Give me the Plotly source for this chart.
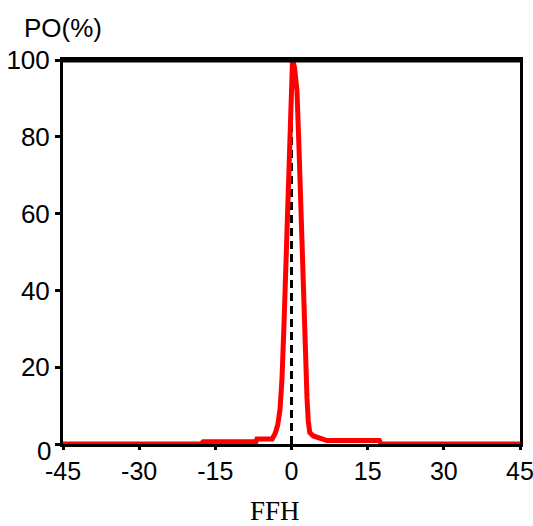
import plotly.graph_objects as go

# Curve data (FFH vs PO%)
ffh = [-45, -17.8, -17.4, -7.0, -6.8, -3.8, -3.2, -2.7, -2.26, -1.87, -1.48, -1.08,
       -0.6, -0.2, 0.2, 0.6, 1.08, 1.48, 1.87, 2.26, 2.66, 3.05, 3.3, 3.6, 4.3,
       5.7, 7.0, 17.3, 17.6, 45]
po = [0, 0, 0.6, 0.6, 1.3, 1.3, 2.8, 5, 9, 17, 31, 48,
      67, 88, 100, 98, 92, 77, 59, 42, 25.5, 12, 6, 3, 2.1,
      1.4, 0.9, 0.9, 0, 0]

# Reference (zero) line
ref_x = [0, 0]
ref_y = [0, 100]

x_ticks = [-45, -30, -15, 0, 15, 30, 45]
x_ticktext = ["-45", "-30", "-15", "0", "15", "30", "45"]
y_ticks = [0, 20, 40, 60, 80, 100]
y_ticktext = ["", "20", "40", "60", "80", "100"]

fig = go.Figure()
fig.add_trace(go.Scatter(x=ref_x, y=ref_y, mode="lines",
                         line=dict(color="black", width=3, dash="8px,5px"),
                         showlegend=False, hoverinfo="skip"))
fig.add_trace(go.Scatter(x=ffh, y=po, mode="lines",
                         line=dict(color="#ff0000", width=5),
                         showlegend=False))

tick_font = dict(family="Liberation Sans, Arial, sans-serif", size=25, color="black")

fig.update_layout(
    width=533, height=526,
    margin=dict(l=63, r=13, t=60, b=82, autoexpand=False),
    paper_bgcolor="white", plot_bgcolor="white",
    xaxis=dict(range=[-45, 45], tickvals=x_ticks, ticktext=x_ticktext,
               showgrid=False, zeroline=False, showline=True, linecolor="black",
               linewidth=3, mirror=True, ticks="outside", ticklen=3, tickwidth=3,
               tickcolor="black", tickfont=tick_font, automargin=False,
               ticklabeloverflow="allow"),
    yaxis=dict(range=[0, 100], tickvals=y_ticks, ticktext=y_ticktext,
               showgrid=False, zeroline=False, showline=True, linecolor="black",
               linewidth=3, mirror=True, ticks="outside", ticklen=5, tickwidth=3,
               tickcolor="black", tickfont=dict(tick_font, size=26), automargin=False),
    annotations=[
        dict(text="0", xref="paper", yref="y", x=-0.022, y=0, xanchor="right",
             yanchor="middle", yshift=-7, showarrow=False, font=dict(tick_font, size=26)),
        dict(text="PO(%)", xref="paper", yref="paper", x=-0.0897, y=1.083,
             xanchor="left", yanchor="middle", showarrow=False,
             font=dict(family="Liberation Sans, Arial, sans-serif", size=26, color="black")),
        dict(text="FFH", xref="paper", yref="paper", x=0.463, y=-0.174,
             xanchor="center", yanchor="middle", showarrow=False,
             font=dict(family="Liberation Serif, Times New Roman, serif", size=27, color="black")),
    ],
    shapes=[
        dict(type="line", xref="paper", yref="paper", x0=0, x1=1, y0=1, y1=1,
             line=dict(color="black", width=5)),
    ],
)

fig.write_html("out.html", config={"displayModeBar": False},
               post_script="document.body.style.margin='0';document.body.style.overflow='hidden';")
